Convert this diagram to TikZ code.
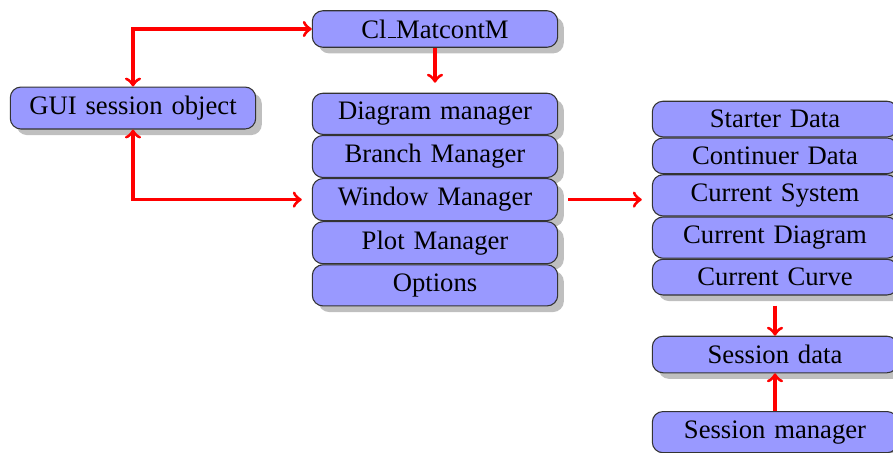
\documentclass[tikz,border=0pt]{standalone}
\usepackage{fontspec}
\setmainfont{Liberation Serif}
\usetikzlibrary{shadows,positioning}
% baseline rule, as the classic \_ draws it
\newcommand{\ulbar}{\leavevmode\kern.06em\vbox{\hrule width.3em}}
\tikzset{
  block/.style={draw=black!80, fill=blue!40, rounded corners=4pt,
    text width=3cm, align=center, drop shadow, font=\fontsize{10}{12}\selectfont},
  link/.style={draw=red, line width=1.2pt, ->},
  dlink/.style={draw=red, line width=1.2pt, <->},
}
\begin{document}
\begin{tikzpicture}[x=0.375pt, y=-0.375pt]
  \useasboundingbox (0,0) rectangle (893,452);

  % top and left boxes
  \node[block] (cl) at (435,29) {Cl\ulbar MatcontM};
  \node[block, anchor=north] (gui) at (133,86.5) {GUI session object};

  % manager stack
  \node[block, anchor=north] (diag) at (435,92.7) {Diagram manager};
  \node[block, below=0pt of diag] (branch) {Branch Manager};
  \node[block, below=0pt of branch] (win) {Window Manager};
  \node[block, below=0pt of win] (plot) {Plot Manager};
  \node[block, below=0pt of plot] (opt) {Options};

  % data stack
  \node[block, anchor=north] (start) at (775,100.7) {Starter Data};
  \node[block, below=0pt of start] (cont) {Continuer Data};
  \node[block, below=0pt of cont] (sys) {Current System};
  \node[block, below=0pt of sys] (cdiag) {Current Diagram};
  \node[block, below=0pt of cdiag] (curve) {Current Curve};

  % session boxes
  \node[block, anchor=north] (sdata) at (775,335.7) {Session data};
  \node[block, anchor=north] (smgr) at (775,411) {Session manager};

  % connectors
  \draw[dlink] (gui) |- (cl);
  \draw[dlink, shorten >=3.75pt] (gui) |- (win);
  \draw[link, shorten >=3.75pt] (cl) -- (diag);
  \draw[link, shorten <=3.75pt, shorten >=3.75pt] (win.east) -- (win.east -| sys.west);
  \draw[link, shorten <=3.75pt] (curve) -- (sdata);
  \draw[link] (smgr) -- (sdata);
\end{tikzpicture}
\end{document}
